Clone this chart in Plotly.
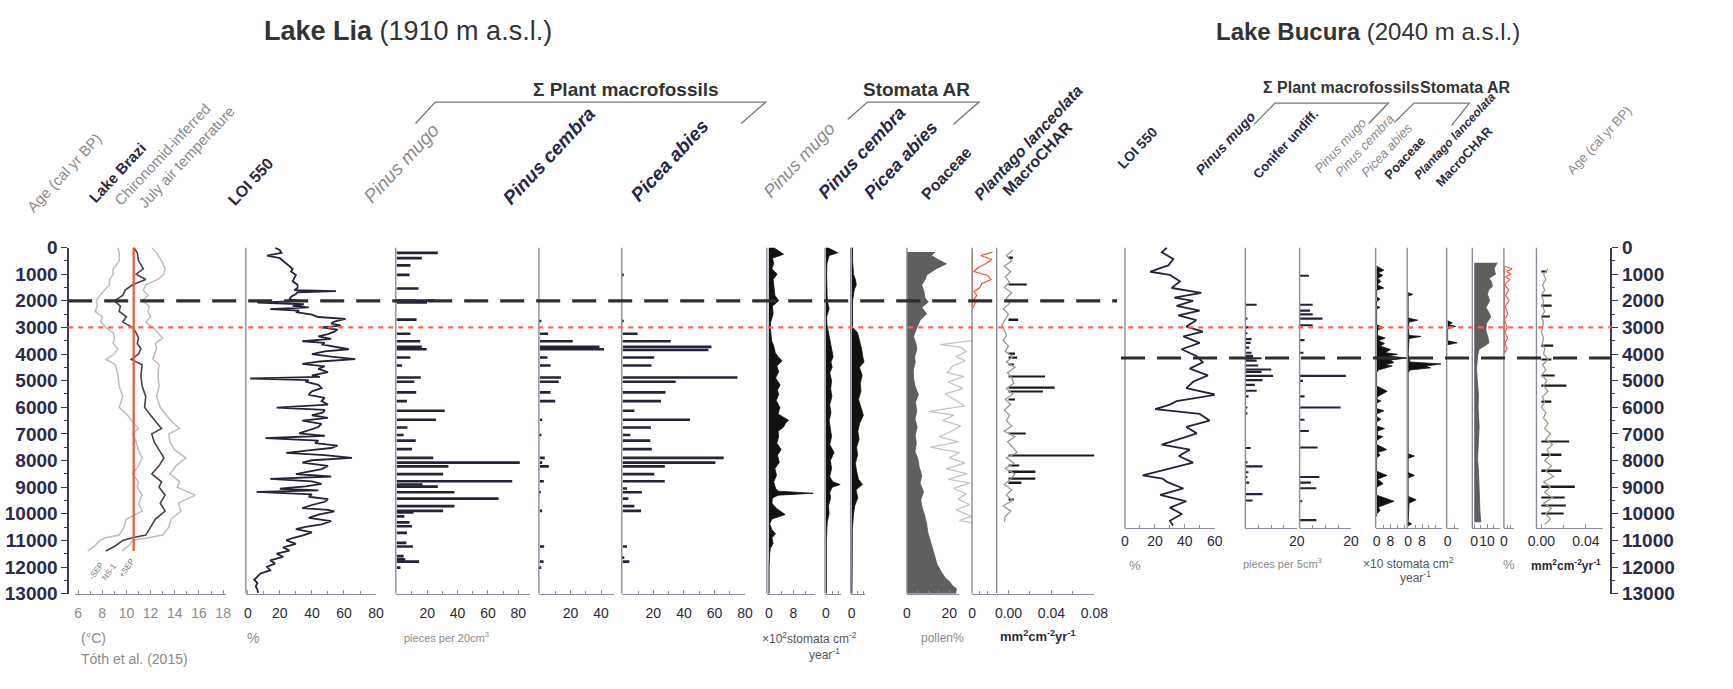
import plotly.graph_objects as go

# ---------------- canvas helpers ----------------
W, H = 1733, 689
def X(px): return px / W
def Y(py): return 1 - py / H

AGE_MAX = 13000
BUC_MAX = 10550
TOP_PX, BOT_PX = 245, 602
BUC_BOT_PX = TOP_PX + (BOT_PX - TOP_PX) * BUC_MAX / AGE_MAX

FONT = "Arial, Liberation Sans, sans-serif"
NAVY = "#23233a"
AXIS_C = "#8c8c9c"
GRAY = "#8a8a8a"
DARK = "#2a2a3a"
NAVY_TXT = "#262648"
RED = "#ff4f2e"
POA_FILL = "#5f5f5f"

# ---------------- DATA: Lake Brazi chironomid temperature ----------------
temp_age = [0, 200, 500, 800, 1000, 1200, 1400, 1600, 1800, 2000, 2200, 2400, 2600, 2800, 3000, 3200,
            3400, 3600, 3800, 4000, 4200, 4400, 4800, 5200, 5600, 6000, 6300, 6600, 6800, 7000, 7300,
            7600, 7900, 8200, 8500, 8800, 9000, 9300, 9600, 9900, 10200, 10500, 10800, 10900, 11000,
            11200, 11400]
temp_ns1 = [10.6, 10.9, 11.0, 11.4, 10.8, 11.6, 10.5, 9.9, 9.7, 9.0, 9.5, 9.4, 10.0, 9.7, 10.5, 10.8,
            11.0, 10.9, 11.2, 11.0, 10.4, 11.3, 11.2, 11.3, 11.6, 11.5, 12.0, 12.5, 12.9, 12.1, 12.3,
            12.7, 13.1, 12.7, 12.1, 12.9, 12.7, 13.2, 12.8, 13.2, 12.4, 12.0, 11.6, 10.5, 9.7, 9.1, 8.3]
temp_upper = [12.1, 12.5, 12.9, 13.2, 13.1, 12.6, 11.6, 11.4, 11.8, 11.3, 11.9, 11.8, 12.0, 11.6, 12.2,
              12.6, 13.0, 12.4, 12.5, 12.3, 12.2, 12.7, 12.6, 12.7, 12.5, 12.8, 13.3, 13.9, 14.4, 13.5,
              13.6, 14.0, 14.9, 14.1, 13.6, 14.4, 14.2, 15.7, 14.3, 14.5, 13.7, 13.5, 13.0, 11.8, 10.5,
              10.2, 9.6]
temp_lower = [9.3, 9.4, 9.4, 8.9, 8.9, 8.6, 8.6, 8.2, 7.8, 7.5, 7.6, 7.4, 8.0, 7.9, 8.3, 8.9, 9.0, 8.9,
              9.3, 9.0, 8.3, 9.1, 9.3, 9.4, 9.7, 9.4, 10.1, 10.6, 11.0, 10.5, 10.8, 11.0, 11.3, 11.0,
              10.5, 11.0, 10.9, 11.3, 11.0, 11.3, 10.0, 9.8, 9.4, 8.3, 7.8, 7.4, 6.8]
modern_temp = 10.6
modern_line_ages = [0, 11400]

# ---------------- DATA: Lake Lia ----------------
loi_lia_age = [0, 100, 200, 300, 400, 550, 700, 800, 900, 1030, 1150, 1270, 1400, 1520, 1600, 1640, 1680,
               1750, 1850, 1950, 2000, 2070, 2130, 2190, 2250, 2310, 2370, 2430, 2520, 2610, 2680, 2760,
               2850, 2930, 3000, 3080, 3160, 3250, 3340, 3430, 3520, 3580, 3640, 3730, 3820, 3900, 4000,
               4100, 4190, 4280, 4370, 4460, 4560, 4680, 4800, 4860, 4920, 4980, 5040, 5160, 5280, 5400,
               5530, 5650, 5770, 5900, 6010, 6100, 6190, 6300, 6400, 6500, 6620, 6740, 6860, 6980, 7070,
               7160, 7250, 7350, 7440, 7530, 7620, 7710, 7800, 7900, 7990, 8080, 8200, 8320, 8420, 8510,
               8600, 8690, 8780, 8880, 8970, 9060, 9120, 9180, 9270, 9360, 9450, 9550, 9670, 9790, 9850,
               9910, 10030, 10150, 10280, 10400, 10490, 10580, 10700, 10820, 10910, 11000, 11130, 11260,
               11380, 11500, 11620, 11750, 11870, 11990, 12120, 12240, 12360, 12480, 12600, 12730, 12850,
               12970]
loi_lia = [17, 20, 21, 12, 20, 23, 26, 28, 27, 30, 29, 28, 31, 31, 29, 55, 31,
           30, 27, 26, 33, 6, 35, 28, 38, 14, 32, 30, 40, 44, 61, 55,
           52, 58, 46, 56, 54, 50, 44, 52, 34, 48, 46, 55, 63, 48, 40,
           52, 67, 45, 34, 48, 44, 50, 40, 45, 1.5, 38, 36, 44, 46, 40,
           38, 48, 46, 50, 18, 48, 47, 40, 50, 34, 46, 44, 38, 32, 48,
           11, 44, 42, 56, 52, 38, 24, 48, 65, 40, 34, 50, 46, 38, 30,
           52, 14, 40, 46, 36, 20, 44, 5.5, 40, 38, 50, 48, 40, 34, 50,
           54, 44, 38, 52, 46, 36, 30, 40, 34, 28, 24, 30, 22,
           26, 18, 22, 14, 17, 12, 14, 8, 6, 4, 6, 5, 6,
           6.5]

pm_lia_age = [200, 400, 670, 1030, 1540, 1990, 2060, 2710, 3240, 3520, 3730, 3820, 4130, 4430, 4880, 5040,
              5440, 5770, 6130, 6470, 6760, 7040, 7250, 7570, 7900, 8080, 8220, 8510, 8780, 8900, 8980,
              9190, 9430, 9710, 9890, 9950, 10100, 10320, 10470, 10720, 11090, 11230, 11590, 11710, 11800,
              12020]
pm_lia = [27, 16.5, 9, 8.4, 14.3, 25, 20, 13, 9, 15.4, 16.5, 19.7, 9, 3.5, 15.8, 11.5,
          12.8, 6.7, 31.6, 25.8, 7, 4.5, 12.5, 10, 24, 81, 34, 30.5, 76, 17, 27,
          38, 67, 38, 30.5, 11, 5, 8.4, 10, 6.7, 6.3, 10.6, 4.5, 5.6, 14.7,
          2.4]

pc_lia_age = [2760, 3240, 3520, 3730, 3820, 4130, 4430, 4880, 5040, 5440, 5770, 6470, 7040, 7900, 8080,
              8220, 8780, 9190, 9890, 11230, 11800, 12020]
pc_lia = [1, 5.4, 21.5, 39, 42, 5, 7, 13.8, 12.3, 7, 10, 1.5, 1, 3.2, 1.5, 5.8, 2.6, 0.6, 1.5, 2.8, 2.4, 0.9]

pa_lia_age = [1030, 2760, 3240, 3520, 3730, 3850, 4130, 4430, 4880, 5040, 5440, 5770, 6130, 6470, 6760,
              7040, 7250, 7570, 7900, 8080, 8220, 8510, 8780, 9050, 9190, 9430, 9710, 9890, 11230, 11650,
              11800]
pa_lia = [0.4, 0.4, 9.7, 31.4, 58, 56, 20.6, 18.8, 75, 34.6, 28, 25, 7.6, 44, 18.4,
          5, 18, 19, 66, 60.6, 27.5, 20.6, 27.5, 2.8, 12.5, 3.7, 7.6, 12, 2.8, 1,
          4.3]

sm_lia_age = [0, 150, 250, 400, 600, 800, 1000, 1200, 1500, 1800, 2000, 2200, 2500, 2800, 3000, 3300,
              3500, 3700, 3950, 4100, 4250, 4450, 4670, 4900, 5160, 5350, 5520, 5750, 6010, 6250, 6400,
              6490, 6600, 6740, 6900, 7100, 7350, 7590, 7800, 8070, 8300, 8560, 8800, 9040, 9150, 9230,
              9300, 9410, 9600, 9800, 10030, 10200, 10380, 10600, 10750, 10900, 11110, 11300, 11470,
              11700, 12000, 12500, 13000]
sm_lia = [1.5, 3.5, 4.8, 1.2, 1.6, 1.0, 2.7, 1.4, 1.6, 2.0, 3.2, 1.2, 1.4, 0.6, 0.5, 0.8,
          0.9, 1.6, 2.1, 3.0, 4.3, 2.6, 3.2, 2.2, 3.7, 2.8, 3.2, 2.4, 3.6, 3.0, 5.2,
          6.4, 5.4, 4.8, 3.0, 3.2, 2.6, 4.0, 2.8, 3.4, 2.0, 2.5, 1.6, 2.2, 3.0, 14.4,
          3.0, 1.2, 1.0, 2.5, 5.3, 1.0, 0.3, 1.0, 2.2, 1.0, 1.4, 0.5, 0.3,
          0.2, 0.1, 0.1, 0.1]

sc_lia_age = [0, 200, 300, 600, 1000, 1500, 2000, 2300, 2600, 2900, 3200, 3400, 3600, 3900, 4100, 4300,
              4500, 4700, 5000, 5300, 5600, 5900, 6200, 6500, 6800, 7100, 7400, 7700, 8000, 8300, 8600,
              8800, 8900, 9000, 9200, 9400, 9700, 10000, 10300, 10700, 11000, 12000, 13000]
sc_lia = [0.5, 3.8, 1.0, 0.3, 0.2, 0.3, 0.4, 1.0, 0.2, 0.3, 0.8, 1.2, 1.5, 1.8, 2.3, 1.6,
          2.0, 1.2, 1.8, 1.5, 1.9, 1.2, 1.6, 1.0, 1.3, 1.8, 1.2, 2.6, 1.4, 1.8, 1.2,
          2.2, 4.6, 2.0, 1.2, 1.5, 0.8, 1.0, 0.4, 0.3, 0.1, 0.1, 0.1]

sp_lia_age = [0, 500, 1000, 1200, 1400, 1600, 2000, 2500, 3000, 3200, 3500, 3800, 4100, 4300, 4500, 4800,
              5100, 5400, 5700, 6000, 6300, 6600, 6900, 7200, 7500, 7800, 8100, 8400, 8700, 8900, 9100,
              9400, 9700, 10000, 10300, 10600, 11000, 12000, 13000]
sp_lia = [0.3, 0.3, 0.6, 1.2, 1.5, 0.8, 0.3, 0.3, 0.3, 1.9, 2.6, 3.2, 3.6, 4.0, 2.5, 3.4,
          2.8, 3.0, 2.2, 3.0, 3.8, 2.6, 2.0, 2.4, 1.6, 1.9, 1.2, 1.6, 2.2, 3.5, 1.4,
          2.0, 1.0, 0.6, 0.3, 0.2, 0.2, 0.1, 0.1]

poa_lia_age = [170, 300, 450, 610, 790, 1030, 1200, 1400, 1650, 1890, 2050, 2250, 2490, 2730, 3000, 3340,
               3600, 3820, 4100, 4310, 4600, 4920, 5200, 5530, 5800, 6130, 6450, 6740, 7050, 7350, 7650,
               7950, 8250, 8560, 8850, 9170, 9480, 9780, 10080, 10380, 10690, 10990, 11300, 11590, 11900,
               12200, 12400, 12560, 12700, 12810, 13000]
poa_lia = [13.2, 11.6, 14.5, 18.6, 14.0, 9.3, 8.6, 7.0, 8.0, 8.5, 10.0, 7.0, 9.3, 6.2, 4.7, 3.1,
           4.2, 4.7, 3.6, 3.9, 3.0, 3.1, 3.8, 5.4, 4.0, 4.6, 3.8, 4.8, 3.9, 4.4, 3.8,
           5.2, 5.8, 7.0, 6.2, 7.8, 6.5, 7.2, 8.4, 9.3, 9.8, 10.9, 11.8, 13.2, 14.2,
           16.3, 18.0, 20.2, 21.5, 23.3, 23.0]

# exaggerated (light grey) curve drawn leftwards from the Plantago axis
pex_lia_age = [3500, 3650, 3750, 3900, 4100, 4250, 4450, 4700, 4850, 5050, 5300, 5500, 5750, 5950, 6150,
               6300, 6500, 6700, 6900, 7100, 7300, 7500, 7700, 7900, 8100, 8300, 8500, 8700, 8850, 9050,
               9250, 9450, 9650, 9850, 10100, 10250, 10350]
pex_lia = [0.5, 15.0, 6.0, 3.5, 8.0, 4.0, 9.5, 12.0, 4.5, 11.5, 5.0, 13.0, 8.0, 4.0, 20.0,
           9.0, 14.0, 6.0, 10.0, 15.5, 7.0, 19.5, 6.5, 11.0, 4.0, 12.5, 3.0, 11.5, 2.0, 9.0,
           3.5, 7.0, 2.0, 8.0, 1.0, 6.5, 0.5]

pl_lia_age = [170, 300, 450, 600, 750, 900, 1050, 1200, 1350, 1500, 1650, 1800, 1950, 2100, 2300]
pl_lia = [5.2, 2.2, 5.0, 3.5, 1.5, 0.5, 4.0, 4.8, 2.5, 2.0, 0.5, 1.2, 0.4, 0.8, 0]

char_lia_age = [100, 300, 500, 700, 900, 1100, 1300, 1500, 1700, 1900, 2100, 2300, 2500, 2700, 2900, 3100,
                3300, 3500, 3700, 3900, 4100, 4300, 4500, 4700, 4900, 5100, 5300, 5500, 5700, 5900, 6100,
                6300, 6500, 6700, 6900, 7100, 7300, 7500, 7700, 7900, 8100, 8300, 8500, 8700, 8900, 9100,
                9300, 9500, 9700, 9900, 10100, 10300]
char_lia_bg = [0.004, -0.002, 0.003, -0.004, 0.002, -0.003, 0.001, -0.004, 0.003, -0.002,
               0.001, -0.005, 0.000, -0.003, -0.006, -0.004, -0.002, -0.005, 0.000, -0.003,
               0.004, -0.002, 0.006, -0.001, 0.003, 0.005, -0.002, 0.004, -0.003, 0.002,
               -0.004, 0.001, -0.002, 0.003, -0.004, 0.006, -0.001, 0.004, 0.008, -0.002,
               0.005, -0.003, 0.006, 0.002, -0.004, 0.003, -0.002, 0.004, -0.005, 0.002,
               -0.003, -0.004]
char_lia_peak_age = [400, 1400, 2730, 4000, 4150, 4400, 4850, 5280, 5400, 5710, 6990, 7810, 8200, 8440,
                     8690, 8850, 9470]
char_lia_peak = [0.004, 0.017, 0.009, 0.006, 0.008, 0.005, 0.034, 0.043, 0.032, 0.006, 0.016, 0.080,
                 0.010, 0.025, 0.025, 0.012, 0.005]

# ---------------- DATA: Lake Bucura ----------------
loi_buc_age = [0, 180, 430, 670, 800, 910, 1030, 1270, 1520, 1700, 1880, 2000, 2190, 2370, 2550, 2730,
               2970, 3160, 3340, 3580, 3820, 4070, 4310, 4550, 4800, 5040, 5280, 5530, 5770, 5900, 6070,
               6250, 6500, 6740, 6980, 7220, 7400, 7590, 7830, 8080, 8320, 8450, 8560, 8680, 8800, 9050,
               9290, 9530, 9770, 10010, 10260, 10440]
loi_buc = [28, 24.6, 32.3, 29, 22, 16.9, 30, 36.7, 31.2, 51, 33, 45.5, 34.5, 49.9, 35.6, 47.7,
           41, 52, 39, 49.9, 37.8, 47.7, 52, 43.3, 55.4, 45.5, 41, 60.9, 34.5, 30, 20.2,
           49.9, 56.5, 41, 48, 34.5, 24.6, 43.3, 36, 45.5, 27.9, 20, 11.8, 25, 28, 39,
           23.5, 41, 30, 38, 30, 32]

pm_buc_age = [2150, 2670, 3000, 3220, 3440, 3580, 3760, 3950, 4070, 4160, 4250, 4430, 4580, 4670, 4820,
              4980, 5160, 5380, 5590, 6010, 6230, 7530, 8070, 8220, 8440, 8620, 8830, 9260, 9500]
pm_buc = [4.4, 0.8, 1.2, 0.8, 2.4, 2.0, 1.5, 2.4, 3.0, 6.3, 4.4, 5.0, 10.1, 6.3, 10.8,
          6.7, 3.7, 4.4, 1.2, 0.5, 0.8, 2.1, 0.8, 6.7, 1.2, 0.8, 1.5, 6.7, 2.8]

cu_buc_age = [1060, 2150, 2370, 2510, 2670, 2920, 3480, 3950, 4820, 5010, 5590, 6010, 6470, 6890, 7510,
              8620, 8830, 9040, 9530, 10240]
cu_buc = [3.6, 5.1, 4.0, 5.1, 8.9, 5.1, 1.9, 1.5, 18, 1.3, 1.9, 16, 1.9, 3.6, 7.0, 7.7, 4.4, 6.5, 1.0, 6.5]

sm_buc_age = [700, 850, 950, 1050, 1150, 1270, 1400, 1520, 1600, 1850, 1940, 2020, 2200, 2250, 2300, 2900,
              3000, 3100, 3300, 3400, 3500, 3600, 3700, 3830, 3950, 4010, 4080, 4150, 4220, 4320, 4400,
              4450, 4600, 4700, 5200, 5400, 5600, 5700, 5760, 5850, 6050, 6130, 6250, 6350, 6450, 6550,
              6700, 6800, 6900, 7050, 7100, 7250, 7400, 7590, 7700, 7800, 7900, 8400, 8560, 8700, 8870,
              9000, 9300, 9530, 9750, 9890, 10000, 10100]
sm_buc = [0, 4.2, 0.8, 3.6, 0.6, 2.4, 0.4, 4.1, 0, 0, 2.0, 0, 0, 2.0, 0, 0,
          4.0, 0.5, 0.5, 5.0, 1.0, 4.5, 2.0, 8.0, 5.0, 12.0, 6.0, 18.0, 8.0, 10.0, 5.0,
          9.0, 1.0, 0, 0, 6.1, 0.5, 0, 2.5, 0, 0, 4.2, 0, 0, 2.5, 0,
          0, 4.5, 0.5, 0.5, 3.5, 0, 0, 5.8, 0.5, 2.0, 0, 0, 6.0, 0.5, 3.8,
          0, 0, 10, 1, 2, 0, 0]

sc_buc_age = [1700, 1760, 1820, 2650, 2730, 2800, 3000, 3300, 3340, 3420, 4000, 4300, 4370, 4450, 4520,
              4600, 4700, 7750, 7830, 7920, 8450, 8560, 8650, 9350, 9470, 9600, 10300, 10380, 10450]
sc_buc = [0, 2.7, 0, 0, 5.5, 0.5, 0, 0.5, 7.4, 0.5, 0, 1, 19, 10, 13,
          1, 0, 0, 3.6, 0, 0, 3.6, 0, 0, 4.6, 0.5, 0, 1.9, 0]

sp_buc_age = [2750, 2830, 2900, 2960, 3050, 3500, 3580, 3650]
sp_buc = [0, 2.7, 0.5, 4.6, 0, 0, 5.5, 0]

poa_buc_age = [570, 790, 1000, 1150, 1300, 1460, 1600, 1760, 2000, 2250, 2450, 2610, 2850, 3100, 3350,
               3580, 3700, 3820, 4070, 4300, 4550, 5000, 5530, 6000, 6740, 7300, 7950, 8500, 9170, 9890,
               10320]
poa_buc = [17.9, 15.4, 16.5, 11.5, 13.5, 14.1, 11.0, 10.3, 12.0, 9.0, 11.5, 12.8, 9.5, 9.0, 10.5,
           11.5, 8.0, 3.8, 2.6, 2.2, 1.8, 2.4, 3.3, 3.0, 3.8, 3.2, 2.6, 3.4, 3.8, 4.4,
           5.1]

pl_buc_age = [700, 800, 900, 1000, 1100, 1200, 1400, 1600, 1800, 2000, 2200, 2500, 2700, 3000, 3200, 3400,
              3600, 3800, 4000]
pl_buc = [0.3, 2.5, 0.8, 2.2, 0.5, 1.8, 0.3, 1.5, 0.5, 1.6, 0.4, 1.2, 0.2, 1.0, 0.3, 1.2, 0.3, 1.0, 0]

char_buc_age = [800, 1000, 1200, 1400, 1600, 1800, 2000, 2200, 2400, 2600, 2800, 3000, 3200, 3400, 3600,
                3800, 4000, 4200, 4400, 4600, 4800, 5000, 5200, 5400, 5600, 5800, 6000, 6200, 6400, 6600,
                6800, 7000, 7200, 7400, 7600, 7800, 8000, 8200, 8400, 8600, 8800, 9000, 9200, 9400, 9600,
                9800, 10000, 10200, 10400]
char_buc_bg = [0.006, 0.002, 0.004, 0.001, 0.003, 0.000, 0.002, 0.001, 0.003, 0.000,
               0.002, 0.001, 0.000, 0.002, 0.001, 0.003, 0.002, 0.006, 0.001, 0.004,
               0.000, 0.005, 0.002, 0.006, 0.001, 0.003, 0.000, 0.004, 0.002, 0.006,
               0.003, 0.008, 0.004, 0.010, 0.005, 0.008, 0.003, 0.009, 0.004, 0.011,
               0.002, 0.008, 0.003, 0.010, 0.002, 0.009, 0.004, 0.008, 0.003]
char_buc_peak_age = [900, 1800, 2200, 2600, 3700, 4200, 4800, 5200, 5800, 7300, 7800, 8400, 9000, 9400,
                     9700, 10000]
char_buc_peak = [0.005, 0.0092, 0.0092, 0.0077, 0.0107, 0.009, 0.012, 0.0225, 0.009, 0.025, 0.018, 0.018,
                 0.030, 0.021, 0.022, 0.020]

# event lines (cal yr BP)
lia_event_age = 2000
red_event_age = 3000
buc_event_age = 4150

# tick labels
age_ticks = [0, 1000, 2000, 3000, 4000, 5000, 6000, 7000, 8000, 9000, 10000, 11000, 12000, 13000]
age_ticktext = ["0", "1000", "2000", "3000", "4000", "5000", "6000", "7000", "8000", "9000", "10000",
                "11000", "12000", "13000"]

# ---------------- figure ----------------
fig = go.Figure()
layout = {}
shapes = []
annotations = []


def xref(n):
    return "x" if n == 1 else f"x{n}"


def add_xaxis(n, d0, d1, rng, yname, tickvals=None, ticktext=None, minor=None, tickcolor=DARK,
              size=14, vline=True, vbottom=AGE_MAX, visible=True, standoff=0):
    key = "xaxis" if n == 1 else f"xaxis{n}"
    ax = dict(domain=[X(d0), X(d1)], range=rng, anchor=yname, showgrid=False, zeroline=False,
              fixedrange=True)
    if not visible:
        ax.update(visible=False)
    else:
        ax.update(showline=True, linecolor=AXIS_C, linewidth=1.2, ticks="inside", ticklen=4,
                  tickcolor=AXIS_C, tickmode="array", tickvals=tickvals or [], tickangle=0,
                  ticklabelstandoff=standoff,
                  tickfont=dict(family=FONT, size=size, color=tickcolor))
        if ticktext:
            ax["ticktext"] = ticktext
        if minor:
            ax["minor"] = dict(tickmode="linear", tick0=0, dtick=minor, ticks="inside", ticklen=3,
                               tickcolor=AXIS_C)
    layout[key] = ax
    if vline:
        shapes.append(dict(type="line", xref=f"{xref(n)} domain", x0=0, x1=0, yref=yname, y0=0,
                           y1=vbottom, line=dict(color=AXIS_C, width=1.4), layer="above"))


def line(x, y, n, yname, color, width, fill=None, fillcolor=None, dash=None):
    fig.add_trace(go.Scatter(x=x, y=y, xaxis=xref(n), yaxis=yname, mode="lines",
                             line=dict(color=color, width=width, dash=dash), fill=fill,
                             fillcolor=fillcolor, hoverinfo="skip", showlegend=False))


def bars(x, y, n, yname, color, width):
    fig.add_trace(go.Bar(x=x, y=y, orientation="h", xaxis=xref(n), yaxis=yname, width=width,
                         marker=dict(color=color, line=dict(width=0)), hoverinfo="skip",
                         showlegend=False))


SO = 6  # extra tick-label standoff for the Lia panels

# --- Lia panels
add_xaxis(1, 67, 220, [5.755, 18.245], "y", [6, 8, 10, 12, 14, 16, 18], minor=1, tickcolor=GRAY,
          vline=False, standoff=SO)
line(temp_lower, temp_age, 1, "y", "#bdbdbd", 1.5)
line(temp_upper, temp_age, 1, "y", "#bdbdbd", 1.5)
line(temp_ns1, temp_age, 1, "y", "#444444", 1.6)
line([modern_temp, modern_temp], modern_line_ages, 1, "y", RED, 2.2)

add_xaxis(2, 240, 372, [-1.23, 80], "y", [0, 20, 40, 60, 80], minor=10, standoff=SO)
line(loi_lia, loi_lia_age, 2, "y", NAVY, 1.8)

add_xaxis(3, 392, 528, [-0.65, 87.7], "y", [20, 40, 60, 80], minor=10, standoff=SO)
bars(pm_lia, pm_lia_age, 3, "y", NAVY, 100)
add_xaxis(4, 537, 613, [-0.65, 48.4], "y", [20, 40], minor=10, standoff=SO)
bars(pc_lia, pc_lia_age, 4, "y", NAVY, 100)
add_xaxis(5, 621, 746, [-0.65, 80], "y", [20, 40, 60, 80], minor=10, standoff=SO)
bars(pa_lia, pa_lia_age, 5, "y", NAVY, 100)

add_xaxis(6, 768, 817, [-0.64, 15.04], "y", [0, 8], minor=4, standoff=SO)
line(sm_lia, sm_lia_age, 6, "y", "#111111", 0.8, fill="tozerox", fillcolor="#111111")
add_xaxis(7, 827, 843, [-0.32, 4.8], "y", [0], minor=2, standoff=SO)
line(sc_lia, sc_lia_age, 7, "y", "#111111", 0.8, fill="tozerox", fillcolor="#111111")
add_xaxis(8, 853, 868, [-0.32, 4.48], "y", [0], minor=2, standoff=SO)
line(sp_lia, sp_lia_age, 8, "y", "#111111", 0.8, fill="tozerox", fillcolor="#111111")

add_xaxis(9, 910, 963, [0, 24.65], "y", [0, 20], minor=5, standoff=SO)
line(poa_lia, poa_lia_age, 9, "y", "#555555", 0.8, fill="tozerox", fillcolor=POA_FILL)
add_xaxis(10, 910, 978, [30, 0], "y", visible=False, vline=False)
line(pex_lia, pex_lia_age, 10, "y", "#c4c4c4", 1.3)
add_xaxis(11, 976, 1000, [0, 6], "y", [0], minor=2, standoff=SO)
line([0, 0], [pl_lia_age[0], pl_lia_age[-1]], 11, "y", RED, 2)
line(pl_lia, pl_lia_age, 11, "y", RED, 1.2)

add_xaxis(12, 1001, 1100, [-0.011, 0.08], "y", [0, 0.04, 0.08], ["0.00", "0.04", "0.08"], minor=0.02,
          standoff=SO)
bars(char_lia_peak, char_lia_peak_age, 12, "y", "#1a1a1a", 55)
line(char_lia_bg, char_lia_age, 12, "y", "#9a9a9a", 1.3)

# --- Bucura panels
add_xaxis(13, 1131, 1222, [0, 60], "y2", [0, 20, 40, 60], minor=10, vbottom=BUC_MAX)
line(loi_buc, loi_buc_age, 13, "y2", NAVY, 1.8)
add_xaxis(14, 1253, 1305, [0, 20], "y2", [20], minor=5, vbottom=BUC_MAX)
bars(pm_buc, pm_buc_age, 14, "y2", NAVY, 80)
add_xaxis(15, 1308, 1360, [0, 20], "y2", [20], minor=5, vbottom=BUC_MAX)
bars(cu_buc, cu_buc_age, 15, "y2", NAVY, 80)
add_xaxis(16, 1385, 1417, [-0.57, 17.7], "y2", [0, 8], minor=4, vbottom=BUC_MAX)
line(sm_buc, sm_buc_age, 16, "y2", "#111111", 0.8, fill="tozerox", fillcolor="#111111")
add_xaxis(17, 1417, 1452, [-0.57, 19.4], "y2", [0, 8], minor=4, vbottom=BUC_MAX)
line(sc_buc, sc_buc_age, 17, "y2", "#111111", 0.8, fill="tozerox", fillcolor="#111111")
add_xaxis(18, 1457, 1470, [-0.57, 6.9], "y2", [0], minor=4, vbottom=BUC_MAX)
line(sp_buc, sp_buc_age, 18, "y2", "#111111", 0.8, fill="tozerox", fillcolor="#111111")
add_xaxis(19, 1483, 1511, [-1.5, 20], "y2", [0, 10], minor=5, vbottom=BUC_MAX)
line(poa_buc, poa_buc_age, 19, "y2", "#555555", 0.8, fill="tozerox", fillcolor=POA_FILL)
add_xaxis(20, 1515, 1525, [0, 3], "y2", [0], minor=1, vbottom=BUC_MAX)
line([0, 0], [pl_buc_age[0], pl_buc_age[-1]], 20, "y2", RED, 2)
line(pl_buc, pl_buc_age, 20, "y2", RED, 1.1)
add_xaxis(21, 1548, 1615, [-0.0044, 0.055], "y2", [0, 0.04], ["0.00", "0.04"], minor=0.02,
          vbottom=BUC_MAX)
bars(char_buc_peak, char_buc_peak_age, 21, "y2", "#1a1a1a", 55)
line(char_buc_bg, char_buc_age, 21, "y2", "#9a9a9a", 1.3)

# right-hand age axis carrier (empty)
fig.add_trace(go.Scatter(x=[None], y=[None], xaxis="x", yaxis="y3", showlegend=False, hoverinfo="skip"))

age_axis_common = dict(range=[AGE_MAX, 0], showgrid=False, zeroline=False, showline=True,
                       linecolor="#3a3a55", linewidth=1.5, ticks="outside", ticklen=6,
                       tickcolor="#3a3a55", tickmode="array", tickvals=age_ticks, ticktext=age_ticktext,
                       tickfont=dict(family=FONT, size=19, color="#2b2b48", weight="bold"),
                       minor=dict(tickmode="linear", tick0=0, dtick=500, ticks="outside", ticklen=3,
                                  tickcolor="#3a3a55"),
                       fixedrange=True)
layout["yaxis"] = dict(domain=[Y(BOT_PX), Y(TOP_PX)], anchor="free", position=X(60), side="left",
                       **age_axis_common)
layout["yaxis3"] = dict(overlaying="y", anchor="free", position=X(1624), side="right",
                        **age_axis_common)
layout["yaxis2"] = dict(domain=[Y(BUC_BOT_PX), Y(TOP_PX)], range=[BUC_MAX, 0], anchor="x13",
                        showline=False, showticklabels=False, ticks="", showgrid=False, zeroline=False,
                        fixedrange=True)

# event lines
shapes.append(dict(type="line", xref="paper", x0=X(60), x1=X(1123), yref="y", y0=lia_event_age,
                   y1=lia_event_age, line=dict(color="#2e2e2e", width=3.2, dash="24px,12px"),
                   layer="above"))
shapes.append(dict(type="line", xref="paper", x0=X(60), x1=X(1624), yref="y", y0=red_event_age,
                   y1=red_event_age, line=dict(color="#ff6644", width=2.2, dash="5px,5px"),
                   layer="above"))
shapes.append(dict(type="line", xref="paper", x0=X(1127), x1=X(1624), yref="y", y0=buc_event_age,
                   y1=buc_event_age, line=dict(color="#2e2e2e", width=3.0, dash="24px,12px"),
                   layer="above"))

# group brackets
def bracket(pts):
    d = "M " + " L ".join(f"{X(px)},{Y(py)}" for px, py in pts)
    shapes.append(dict(type="path", xref="paper", yref="paper", path=d,
                       line=dict(color="#777777", width=1.3)))

bracket([(412, 117), (432, 95), (767, 95), (742, 117)])
bracket([(850, 113), (870, 95), (983, 95), (957, 118)])
bracket([(1262, 118), (1283, 96), (1398, 96), (1378, 117)])
bracket([(1404, 116), (1424, 96), (1480, 96), (1462, 119)])


def text(t, px, py, size, color, xanchor="left", yanchor="middle", angle=0):
    annotations.append(dict(text=t, x=X(px), y=Y(py), xref="paper", yref="paper", showarrow=False,
                            xanchor=xanchor, yanchor=yanchor, textangle=angle,
                            font=dict(family=FONT, size=size, color=color)))


# titles
text("<b>Lake Lia</b> (1910 m a.s.l.)", 256, 22, 27, "#333333")
text("<b>Lake Bucura</b> (2040 m a.s.l.)", 1221, 22, 24, "#333333")
text("<b>Σ Plant macrofossils</b>", 625, 82, 19, "#333333", xanchor="center")
text("<b>Stomata AR</b>", 920, 82, 19, "#333333", xanchor="center")
text("<b>Σ Plant macrofossils</b>", 1350, 80, 16, "#333333", xanchor="center")
text("<b>Stomata AR</b>", 1476, 80, 16, "#333333", xanchor="center")

# rotated column labels: (text, left px, bottom px, style, colour, size)
col_labels = [
    ("Age (cal yr BP)", 12, 215, "", GRAY, 15),
    ("Lake Brazi", 75, 205, "b", DARK, 15),
    ("Chironomid-inferred", 100, 208, "", GRAY, 15),
    ("July air temperature", 125, 210, "", GRAY, 15),
    ("LOI 550", 216, 208, "b", DARK, 16),
    ("Pinus mugo", 352, 206, "i", GRAY, 19),
    ("Pinus cembra", 494, 208, "bi", NAVY_TXT, 19),
    ("Picea abies", 623, 205, "bi", NAVY_TXT, 19),
    ("Pinus mugo", 758, 201, "i", GRAY, 18),
    ("Pinus cembra", 813, 202, "bi", NAVY_TXT, 18),
    ("Picea abies", 860, 202, "bi", NAVY_TXT, 18),
    ("Poaceae", 918, 202, "b", DARK, 16),
    ("Plantago lanceolata", 972, 202, "bi", DARK, 16),
    ("MacroCHAR", 1001, 198, "b", DARK, 16),
    ("LOI 550", 1117, 170, "b", DARK, 14),
    ("Pinus mugo", 1196, 176, "bi", NAVY_TXT, 14),
    ("Conifer undiff.", 1254, 180, "b", NAVY_TXT, 13),
    ("Pinus mugo", 1317, 174, "i", GRAY, 13),
    ("Pinus cembra", 1338, 178, "i", GRAY, 13),
    ("Picea abies", 1365, 178, "i", GRAY, 13),
    ("Poaceae", 1388, 180, "b", DARK, 13),
    ("Plantago lanceolata", 1418, 180, "bi", DARK, 12),
    ("MacroCHAR", 1440, 188, "b", DARK, 13),
    ("Age (cal yr BP)", 1573, 176, "", GRAY, 13),
]
for t, lx, by, st, col, sz in col_labels:
    s = t
    if "i" in st:
        s = f"<i>{s}</i>"
    if "b" in st:
        s = f"<b>{s}</b>"
    text(s, lx, by, sz, col, xanchor="left", yanchor="bottom", angle=-47)

# SEP labels in temperature panel
for t, lx, by in [("-SEP", 77, 592), ("NS-1", 90, 593), ("+SEP", 106, 590)]:
    text(t, lx, by, 8, "#777777", xanchor="left", yanchor="bottom", angle=-55)

# unit labels
text("(°C)", 71, 648, 14, GRAY)
text("Tóth et al. (2015)", 71, 669, 14, GRAY)
text("%", 239, 648, 14, GRAY)
text("pieces per 20cm<sup>3</sup>", 398, 647, 11, GRAY)
text("×10<sup>2</sup>stomata cm<sup>-2</sup>", 761, 648, 12, "#555555")
text("year<sup>-1</sup>", 826, 664, 12, "#555555", xanchor="center")
text("pollen%", 922, 648, 12, GRAY)
text("<b>mm<sup>2</sup>cm<sup>-2</sup>yr<sup>-1</sup></b>", 1002, 646, 13, DARK)
text("%", 1133, 573, 13, GRAY)
text("pieces per 5cm<sup>3</sup>", 1249, 570, 11, GRAY)
text("×10 stomata cm<sup>2</sup>", 1370, 570, 12, "#555555")
text("year<sup>-1</sup>", 1425, 585, 12, "#555555", xanchor="center")
text("%", 1512, 572, 13, GRAY)
text("<b>mm<sup>2</sup>cm<sup>-2</sup>yr<sup>-1</sup></b>", 1540, 572, 12, DARK)

fig.update_layout(**layout)
fig.update_layout(width=W, height=H, margin=dict(l=0, r=0, t=0, b=0), autosize=False,
                  paper_bgcolor="white", plot_bgcolor="rgba(0,0,0,0)", showlegend=False,
                  shapes=shapes, annotations=annotations, font=dict(family=FONT),
                  barmode="overlay", hovermode=False)

fig.write_html("out.html")
